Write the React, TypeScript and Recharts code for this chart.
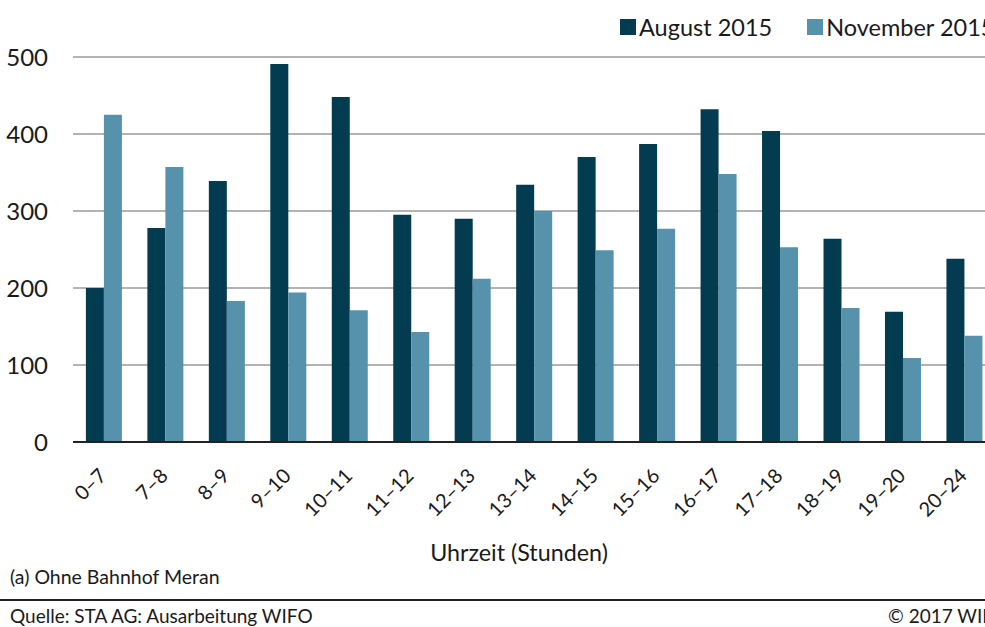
import { BarChart, Bar, XAxis, YAxis, CartesianGrid } from "recharts";

const HOURS = [
  "0–7", "7–8", "8–9", "9–10", "10–11", "11–12", "12–13", "13–14",
  "14–15", "15–16", "16–17", "17–18", "18–19", "19–20", "20–24",
];
const AUG_2015 = [200, 278, 339, 491, 448, 295, 290, 334, 370, 387, 432, 404, 264, 169, 238];
const NOV_2015 = [425, 357, 183, 194, 171, 143, 212, 300, 249, 277, 348, 253, 174, 109, 138];
const Y_TICKS = [0, 100, 200, 300, 400, 500];

const DARK = "#033b50";
const LIGHT = "#5692ab";
const FONT = "Lato, 'Open Sans', sans-serif";
const INK = "#1a1a1a";

const rows = HOURS.map((h, i) => ({ h, aug: AUG_2015[i], nov: NOV_2015[i] }));

function HourTick({ x, y, payload }: any) {
  return (
    <text
      transform={`translate(${x + 4},${y + 35}) rotate(-45)`}
      textAnchor="end"
      fontSize={20}
      fontFamily={FONT}
      fill={INK}
    >
      {payload.value}
    </text>
  );
}

function Swatch({ color }: { color: string }) {
  return <span style={{ display: "inline-block", width: 16, height: 16, background: color, marginRight: 3 }} />;
}

export default function App() {
  return (
    <div style={{ position: "absolute", left: 0, top: 0, width: 985, height: 627, overflow: "hidden", background: "#fff", fontFamily: FONT, color: INK }}>
      <BarChart
        width={995}
        height={627}
        data={rows}
        margin={{ top: 57, right: 0, bottom: 85, left: 0 }}
        barGap={0}
        barCategoryGap="21%"
      >
        <CartesianGrid vertical={false} stroke="#9a9a9a" strokeWidth={1.5} />
        <XAxis
          dataKey="h"
          height={100}
          interval={0}
          tickSize={0}
          tickMargin={0}
          tick={<HourTick />}
          axisLine={{ stroke: "#222", strokeWidth: 2 }}
        />
        <YAxis
          width={73}
          domain={[0, 500]}
          ticks={Y_TICKS}
          axisLine={false}
          tickLine={false}
          tickMargin={19}
          tick={{ fontSize: 24, fill: INK, fontFamily: FONT }}
        />
        <Bar dataKey="aug" fill={DARK} isAnimationActive={false} />
        <Bar dataKey="nov" fill={LIGHT} isAnimationActive={false} />
      </BarChart>

      <div style={{ position: "absolute", left: 620, top: 13, fontSize: 23.5, whiteSpace: "nowrap", display: "flex", alignItems: "center" }}>
        <Swatch color={DARK} />
        <span>August 2015</span>
        <span style={{ width: 35 }} />
        <Swatch color={LIGHT} />
        <span>November 2015</span>
      </div>

      <div style={{ position: "absolute", left: 0, width: 1038, top: 538, textAlign: "center", fontSize: 23.3 }}>
        Uhrzeit (Stunden)
      </div>
      <div style={{ position: "absolute", left: 10, top: 565, fontSize: 19.5 }}>(a) Ohne Bahnhof Meran</div>
      <div style={{ position: "absolute", left: 0, top: 599, width: 985, height: 2, background: "#222" }} />
      <div style={{ position: "absolute", left: 10, top: 604, fontSize: 19 }}>Quelle: STA AG: Ausarbeitung WIFO</div>
      <div style={{ position: "absolute", left: 888, top: 604, fontSize: 19, whiteSpace: "nowrap" }}>© 2017 WIFO</div>
    </div>
  );
}
